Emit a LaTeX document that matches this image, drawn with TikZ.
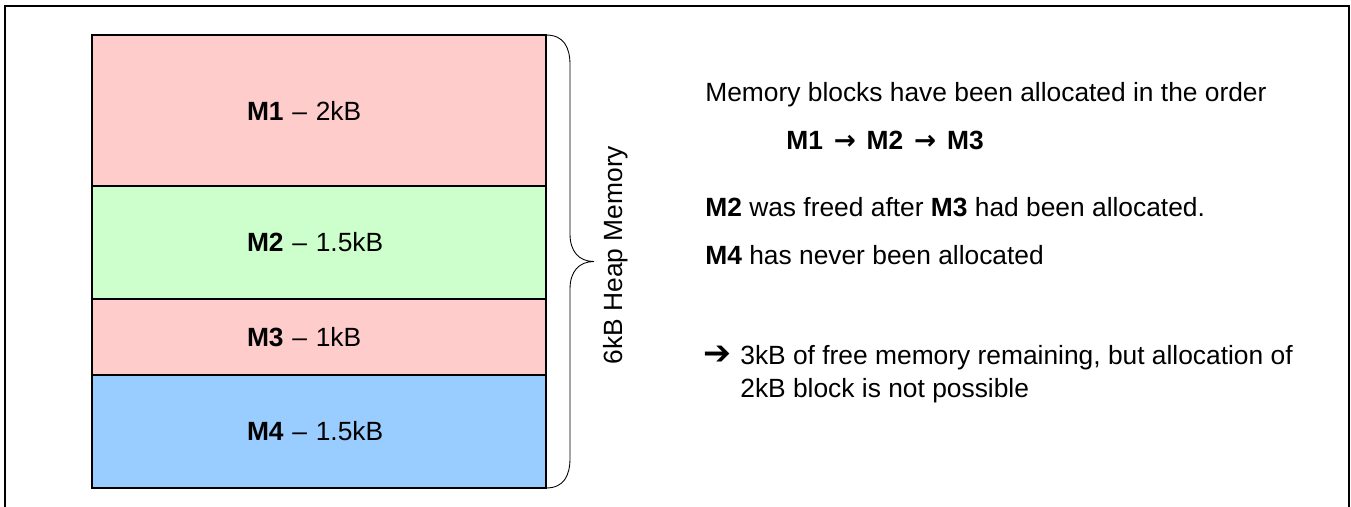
\documentclass[tikz,border=0pt]{standalone}
\usepackage{fontspec}
\setmainfont{Liberation Sans}
\newfontfamily\dingfont{DejaVu Sans}
\usepackage{xcolor}
\usepackage{tikz}
\usetikzlibrary{positioning}

\definecolor{memRed}{HTML}{FFCCCC}
\definecolor{memGreen}{HTML}{CCFFCC}
\definecolor{memBlue}{HTML}{99CCFF}

\newcommand{\seqarrow}{\hspace{2pt}{\dingfont →}\hspace{2pt}}

\begin{document}
\begin{tikzpicture}[ % heap layout with free-space note
    font=\fontsize{15}{18}\selectfont,
    memblock/.style={rectangle, draw=black, line width=0.7pt, outer sep=0pt, minimum width=9.08cm, text width=2.88cm, align=left},
    note/.style={anchor=base west, inner sep=0pt},
    heaplabel/.style={rotate=90, anchor=base, inner sep=0pt},
    braceline/.style={draw, line width=0.5pt},
    frameline/.style={draw, line width=1.1pt}
    ]
    \useasboundingbox (0,0) rectangle (27.02,-10.12);

    % Outer frame (bottom edge runs off the page)
    \draw[frameline] (0.10,-10.4) -- (0.10,-0.12) -- (26.98,-0.12) -- (26.98,-10.4);

    % Heap blocks
    \node[memblock, fill=memRed, minimum height=3.02cm] (memM1) at (6.38,-2.21) {\textbf{M1} – 2kB};
    \node[memblock, fill=memGreen, minimum height=2.26cm, below=0cm of memM1] (memM2) {\textbf{M2} – 1.5kB};
    \node[memblock, fill=memRed, minimum height=1.52cm, below=0cm of memM2] (memM3) {\textbf{M3} – 1kB};
    \node[memblock, fill=memBlue, minimum height=2.26cm, below=0cm of memM3] (memM4) {\textbf{M4} – 1.5kB};

    % Brace over the whole heap
    \path[braceline] (memM1.north east) .. controls +(0.36,0) and +(0,0.35) .. ++(0.48,-0.60)
        -- ++(0,-3.38)
        .. controls +(0,-0.35) and +(-0.30,0) .. ++(0.48,-0.55) coordinate (braceTip)
        .. controls +(-0.30,0) and +(0,0.35) .. ++(-0.48,-0.55)
        -- ++(0,-3.38)
        .. controls +(0,-0.35) and +(0.36,0) .. (memM4.south east);
    \node[heaplabel] (heapLabel) at ([xshift=0.56cm, yshift=0.13cm]braceTip) {6kB Heap Memory};

    % Explanation
    \node[note] (orderText) at (14.10,-2.02) {Memory blocks have been allocated in the order};
    \node[note] (orderSeq) at (15.72,-2.98) {\textbf{M1 \seqarrow{} M2 \seqarrow{} M3}};
    \node[note] (freedText) at (14.10,-4.32) {\textbf{M2} was freed after \textbf{M3} had been allocated.};
    \node[note] (neverText) at (14.10,-5.28) {\textbf{M4} has never been allocated};
    \node[note] (resultArrow) at (14.06,-7.28) {{\dingfont\fontsize{19}{20}\selectfont ➔}};
    \node[note] (resultText) at (14.80,-7.28) {3kB of free memory remaining, but allocation of};
    \node[note] (resultMore) at (14.80,-7.94) {2kB block is not possible};

\end{tikzpicture}
\end{document}
